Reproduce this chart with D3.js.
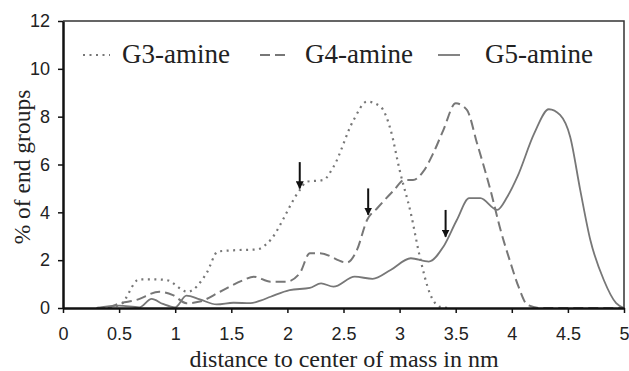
<!DOCTYPE html>
<html>
<head>
<meta charset="utf-8">
<script src="https://cdn.jsdelivr.net/npm/d3@7"></script>
<style>
  body { margin: 0; background: #fff; }
</style>
</head>
<body>
<div id="chart"></div>
<script>
// distance (nm) and % of end groups
const g3X = [0.3, 0.4, 0.51, 0.68, 0.8, 0.92, 1.11, 1.28, 1.38, 1.55, 1.73, 1.82, 2.11, 2.17, 2.32, 2.41, 2.59, 2.71, 2.83, 2.92, 3.0, 3.1, 3.18, 3.27, 3.36, 3.45];
const g3Y = [0, 0.02, 0.13, 1.2, 1.2, 1.17, 0.68, 1.46, 2.36, 2.42, 2.45, 2.7, 4.93, 5.28, 5.35, 5.9, 7.86, 8.63, 8.42, 7.45, 5.77, 3.96, 2.15, 0.61, 0.05, 0];

const g4X = [0.4, 0.49, 0.65, 0.86, 0.98, 1.1, 1.22, 1.4, 1.61, 1.7, 1.85, 1.99, 2.11, 2.2, 2.29, 2.53, 2.62, 2.71, 2.8, 2.95, 3.04, 3.12, 3.21, 3.3, 3.39, 3.5, 3.6, 3.69, 3.81, 3.9, 3.99, 4.06, 4.14, 4.26, 5.0];
const g4Y = [0, 0.17, 0.33, 0.68, 0.54, 0.2, 0.27, 0.68, 1.17, 1.31, 1.1, 1.1, 1.45, 2.29, 2.29, 1.9, 2.43, 3.68, 4.17, 4.93, 5.35, 5.35, 5.7, 6.47, 7.44, 8.56, 8.28, 6.89, 4.93, 3.26, 1.87, 0.89, 0.13, 0, 0];

const g5X = [0.3, 0.5, 0.68, 0.79, 0.89, 1.0, 1.1, 1.22, 1.37, 1.52, 1.67, 1.76, 1.85, 2.02, 2.2, 2.3, 2.41, 2.6, 2.76, 2.92, 3.1, 3.26, 3.39, 3.51, 3.62, 3.72, 3.87, 3.96, 4.05, 4.2, 4.33, 4.43, 4.52, 4.61, 4.7, 4.82, 4.93, 5.0];
const g5Y = [0, 0.1, 0.03, 0.38, 0.17, 0.03, 0.52, 0.36, 0.15, 0.22, 0.2, 0.31, 0.47, 0.75, 0.84, 1.03, 0.89, 1.31, 1.22, 1.59, 2.08, 1.94, 2.56, 3.68, 4.59, 4.59, 4.1, 4.65, 5.49, 7.3, 8.31, 8.07, 7.16, 4.93, 2.84, 1.17, 0.2, 0];

const seriesNames = ['G3-amine', 'G4-amine', 'G5-amine'];
const xTicks = [0, 0.5, 1, 1.5, 2, 2.5, 3, 3.5, 4, 4.5, 5];
const yTicks = [0, 2, 4, 6, 8, 10, 12];

// arrows: x position, top y, tip y
const arrowX = [2.11, 2.72, 3.41];
const arrowTop = [6.1, 5.0, 4.1];
const arrowTip = [5.0, 3.9, 2.98];

const width = 629;
const height = 371;
const margin = { top: 21, right: 5, bottom: 63, left: 63 };

const svg = d3.select('#chart')
  .append('svg')
  .attr('width', width)
  .attr('height', height);

const x = d3.scaleLinear()
  .domain([0, 5])
  .range([margin.left, width - margin.right]);

const y = d3.scaleLinear()
  .domain([0, 12])
  .range([height - margin.bottom, margin.top]);

const lineColor = '#777';
const serif = '"Liberation Serif", "Times New Roman", serif';
const sans = '"Liberation Sans", Arial, sans-serif';
const styles = [
  { dash: '2,4.5', width: 2.2 },
  { dash: '10,5', width: 2 },
  { dash: null, width: 1.8 }
];

const series = [
  g3X.map((d, i) => [d, g3Y[i]]),
  g4X.map((d, i) => [d, g4Y[i]]),
  g5X.map((d, i) => [d, g5Y[i]])
];

const line = d3.line()
  .x(d => x(d[0]))
  .y(d => y(d[1]))
  .curve(d3.curveMonotoneX);

// frame (top and right)
svg.append('path')
  .attr('d', `M${x(0)},${y(12)}H${x(5)}V${y(0)}`)
  .attr('fill', 'none')
  .attr('stroke', '#333')
  .attr('stroke-width', 1.5);

svg.append('g')
  .selectAll('path')
  .data(series)
  .join('path')
    .attr('d', line)
    .attr('fill', 'none')
    .attr('stroke', lineColor)
    .attr('stroke-width', (d, i) => styles[i].width)
    .attr('stroke-dasharray', (d, i) => styles[i].dash);

// axes
const xAxis = g => g
  .attr('transform', `translate(0,${y(0)})`)
  .call(d3.axisBottom(x).tickValues(xTicks).tickFormat(d3.format('')).tickSize(5).tickSizeOuter(0))
  .call(g => g.select('.domain').attr('stroke', '#111').attr('stroke-width', 2.5))
  .call(g => g.selectAll('.tick line').attr('stroke', '#111').attr('stroke-width', 1.5))
  .call(g => g.selectAll('.tick text')
    .attr('y', 15)
    .attr('dy', '0.95em')
    .attr('font-family', sans)
    .attr('font-size', 18)
    .attr('fill', '#222'));

const yAxis = g => g
  .attr('transform', `translate(${x(0)},0)`)
  .call(d3.axisLeft(y).tickValues(yTicks).tickSize(5).tickSizeOuter(0))
  .call(g => g.select('.domain').attr('stroke', '#111').attr('stroke-width', 2.5))
  .call(g => g.selectAll('.tick line').attr('stroke', '#111').attr('stroke-width', 1.5))
  .call(g => g.selectAll('.tick text')
    .attr('x', -13)
    .attr('font-family', sans)
    .attr('font-size', 18)
    .attr('fill', '#222'));

svg.append('g').call(xAxis);
svg.append('g').call(yAxis);

// axis titles
svg.append('text')
  .attr('x', 344)
  .attr('y', 367)
  .attr('text-anchor', 'middle')
  .attr('font-family', serif)
  .attr('font-size', 24)
  .attr('fill', '#222')
  .text('distance to center of mass in nm');

svg.append('text')
  .attr('transform', 'translate(30,167) rotate(-90)')
  .attr('text-anchor', 'middle')
  .attr('font-family', serif)
  .attr('font-size', 23.5)
  .attr('fill', '#222')
  .text('% of end groups');

// legend
const legendSample = [[83, 110], [260, 290], [438, 460]];
const legendText = [122, 305, 485];
const legend = svg.append('g');
seriesNames.forEach((name, i) => {
  legend.append('line')
    .attr('x1', legendSample[i][0]).attr('x2', legendSample[i][1])
    .attr('y1', 55).attr('y2', 55)
    .attr('stroke', lineColor)
    .attr('stroke-width', styles[i].width)
    .attr('stroke-dasharray', styles[i].dash);
  legend.append('text')
    .attr('x', legendText[i])
    .attr('y', 63)
    .attr('font-family', serif)
    .attr('font-size', 27)
    .attr('fill', '#222')
    .text(name);
});

// arrows
svg.append('defs').append('marker')
  .attr('id', 'head')
  .attr('viewBox', '0 0 10 10')
  .attr('refX', 9).attr('refY', 5)
  .attr('markerWidth', 4).attr('markerHeight', 4)
  .attr('orient', 'auto')
  .append('path')
    .attr('d', 'M0,0L10,5L0,10Z')
    .attr('fill', '#111');

svg.append('g')
  .selectAll('line')
  .data(arrowX)
  .join('line')
    .attr('x1', d => x(d)).attr('x2', d => x(d))
    .attr('y1', (d, i) => y(arrowTop[i]))
    .attr('y2', (d, i) => y(arrowTip[i]))
    .attr('stroke', '#111')
    .attr('stroke-width', 2)
    .attr('marker-end', 'url(#head)');
</script>
</body>
</html>
